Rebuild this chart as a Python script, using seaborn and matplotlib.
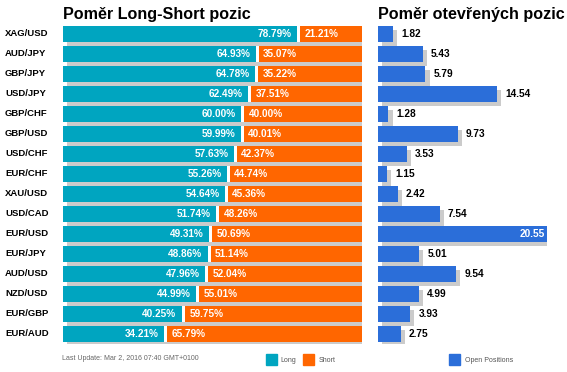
import matplotlib
matplotlib.use("Agg")
import matplotlib.pyplot as plt
import matplotlib.patheffects as pe
import matplotlib.transforms as mtrans
import seaborn as sns

pairs = ["XAG/USD", "AUD/JPY", "GBP/JPY", "USD/JPY", "GBP/CHF", "GBP/USD", "USD/CHF", "EUR/CHF",
         "XAU/USD", "USD/CAD", "EUR/USD", "EUR/JPY", "AUD/USD", "NZD/USD", "EUR/GBP", "EUR/AUD"]
long_pct = [78.79, 64.93, 64.78, 62.49, 60.00, 59.99, 57.63, 55.26,
            54.64, 51.74, 49.31, 48.86, 47.96, 44.99, 40.25, 34.21]
short_pct = [21.21, 35.07, 35.22, 37.51, 40.00, 40.01, 42.37, 44.74,
             45.36, 48.26, 50.69, 51.14, 52.04, 55.01, 59.75, 65.79]
open_pos = [1.82, 5.43, 5.79, 14.54, 1.28, 9.73, 3.53, 1.15,
            2.42, 7.54, 20.55, 5.01, 9.54, 4.99, 3.93, 2.75]

TEAL = "#00a5c0"
ORANGE = "#ff6600"
BLUE = "#2b6ed9"
SHADOW = "#cbcbcb"
W, H = 567, 372

sns.set_theme(style="white")
plt.rcParams["font.family"] = ["Liberation Sans", "DejaVu Sans"]

fig = plt.figure(figsize=(W / 100, H / 100), dpi=100)
fig.patch.set_facecolor("white")

def px_axes(x0, x1, y0, y1):
    return fig.add_axes([x0 / W, 1 - y1 / H, (x1 - x0) / W, (y1 - y0) / H])

shadow = [pe.SimplePatchShadow(offset=(2.9, -2.9), shadow_rgbFace=SHADOW, alpha=1.0), pe.Normal()]
n = len(pairs)
bar_kw = dict(orient="h", width=0.8, saturation=1, linewidth=0)

# left panel: long/short ratio
ax = px_axes(63, 362, 24, 344)
base = [100.0] * n
gap_end = [l + 0.5 for l in long_pct]
teal_end = [l - 0.5 for l in long_pct]
sns.barplot(x=base, y=pairs, color="white", ax=ax, **bar_kw)
for p in ax.patches:
    p.set_path_effects(shadow)
sns.barplot(x=base, y=pairs, color=ORANGE, ax=ax, **bar_kw)
sns.barplot(x=gap_end, y=pairs, color="white", ax=ax, **bar_kw)
sns.barplot(x=teal_end, y=pairs, color=TEAL, ax=ax, **bar_kw)
ax.set_xlim(0, 100)
ax.set_ylim(n - 0.5, -0.5)
ax.axis("off")
blend = mtrans.blended_transform_factory(ax.transAxes, ax.transData)
for i, (pair, lp, sp) in enumerate(zip(pairs, long_pct, short_pct)):
    ax.text(-0.194, i, pair, transform=blend, ha="left", va="center",
            fontsize=6.8, fontweight="bold", color="black")
    ax.text(lp - 2.3, i, "%.2f%%" % lp, ha="right", va="center",
            fontsize=7.2, fontweight="bold", color="white")
    ax.text(lp + 2.0, i, "%.2f%%" % sp, ha="left", va="center",
            fontsize=7.2, fontweight="bold", color="white")

# right panel: open positions
ax2 = px_axes(378, 546.5, 24, 344)
sns.barplot(x=open_pos, y=pairs, color=BLUE, ax=ax2, **bar_kw)
for p in ax2.patches:
    p.set_path_effects(shadow)
top = max(open_pos)
ax2.set_xlim(0, top)
ax2.set_ylim(n - 0.5, -0.5)
ax2.axis("off")
for i, v in enumerate(open_pos):
    if v == top:
        ax2.text(v - 0.2, i, "%.2f" % v, ha="right", va="center",
                 fontsize=7.3, fontweight="bold", color="white")
    else:
        ax2.text(v + 1.0, i, "%.2f" % v, ha="left", va="center",
                 fontsize=7.3, fontweight="bold", color="black", clip_on=False)

# titles
fig.text(63 / W, 1 - 14 / H, "Poměr Long-Short pozic", ha="left", va="center",
         fontsize=11.6, fontweight="bold", color="black")
fig.text(378 / W, 1 - 14 / H, "Poměr otevřených pozic", ha="left", va="center",
         fontsize=11.6, fontweight="bold", color="black")

# footer
fig.text(62 / W, 1 - 359 / H, "Last Update: Mar 2, 2016 07:40 GMT+0100", ha="left", va="center",
         fontsize=5.0, color="#666666")
for x, tx, c, lab in [(265.5, 280, TEAL, "Long"), (303, 319, ORANGE, "Short"),
                      (449, 465, BLUE, "Open Positions")]:
    fig.patches.append(plt.Rectangle((x / W, 1 - 365 / H), 11 / W, 11 / H,
                                     transform=fig.transFigure, color=c, figure=fig))
    fig.text(tx / W, 1 - 360 / H, lab, ha="left", va="center",
             fontsize=5.0, color="#555555")

fig.savefig("out.png", dpi=100, facecolor="white")
